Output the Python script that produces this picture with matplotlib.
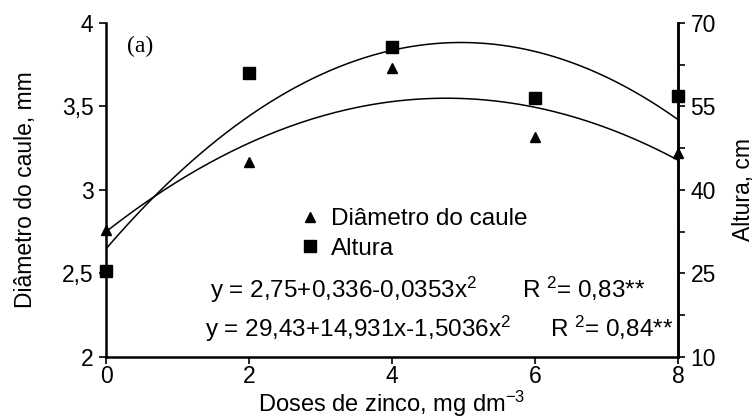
import numpy as np
import matplotlib
matplotlib.use('Agg')
import matplotlib.pyplot as plt

plt.rcParams['font.family'] = ['Liberation Sans', 'DejaVu Sans']
plt.rcParams['mathtext.fontset'] = 'custom'
plt.rcParams['mathtext.rm'] = 'Liberation Sans'
plt.rcParams['mathtext.it'] = 'Liberation Sans'

# doses de zinco
doses = [0, 2, 4, 6, 8]
# diametro do caule (mm) - eixo esquerdo
diametro = [2.76, 3.17, 3.73, 3.32, 3.22]
# altura (cm) - eixo direito
altura = [25.5, 61.0, 65.7, 56.6, 56.8]
# coeficientes das regressoes (a, b, c) de y = a + b x + c x^2
coef_diametro = [2.75, 0.336, -0.0353]
coef_altura = [29.43, 14.931, -1.5036]

fig = plt.figure(figsize=(7.54, 4.18), dpi=100)
ax = fig.add_axes([0.1406, 0.146, 0.7586, 0.799])
ax2 = ax.twinx()

xs = np.linspace(0, 8, 200)
yd = coef_diametro[0] + coef_diametro[1]*xs + coef_diametro[2]*xs**2
ya = coef_altura[0] + coef_altura[1]*xs + coef_altura[2]*xs**2

ax.plot(xs, yd, color='black', lw=1.1)
ax2.plot(xs, ya, color='black', lw=1.1)
ax.plot(doses, diametro, linestyle='none', marker='^', color='black', ms=7.5, clip_on=False, zorder=5)
ax2.plot(doses, altura, linestyle='none', marker='s', color='black', ms=8, clip_on=False, zorder=5)

ax.set_xlim(0, 8)
ax.set_ylim(2, 4)
ax2.set_ylim(10, 70)
ax.set_xticks(doses)
ax.set_yticks([2, 2.5, 3, 3.5, 4])
ax.set_yticklabels(['2', '2,5', '3', '3,5', '4'])
ax2.set_yticks([10, 25, 40, 55, 70])
ax2.set_yticks([17.5, 32.5, 47.5, 62.5], minor=True)

for a in (ax, ax2):
    a.spines['top'].set_visible(False)
    for s in a.spines.values():
        s.set_linewidth(1.8)
    a.tick_params(direction='out', length=5, width=1.2, labelsize=16.5, pad=4)
    a.tick_params(which='minor', direction='out', length=5, width=1.2)
ax.tick_params(axis='x', pad=1)
ax2.spines['left'].set_visible(False)
ax2.spines['bottom'].set_visible(False)

ax.set_xlabel('Doses de zinco, mg dm$^{-3}$', fontsize=17, va='center')
ax.xaxis.set_label_coords(0.5, -0.14)
ax.set_ylabel('Diâmetro do caule, mm', fontsize=16.5, va='center')
ax.yaxis.set_label_coords(-0.14, 0.5)
ax2.set_ylabel('Altura, cm', fontsize=16.5, va='center')
ax2.yaxis.set_label_coords(1.114, 0.5)

ax.text(0.036, 0.93, '(a)', family='Liberation Serif', fontsize=17, va='center', transform=ax.transAxes)

# legenda
ax.plot([0.357], [0.419], linestyle='none', marker='^', color='black', ms=7.5, transform=ax.transAxes, zorder=5)
ax.text(0.393, 0.395, 'Diâmetro do caule', fontsize=17.5, va='baseline', transform=ax.transAxes)
ax.plot([0.357], [0.332], linestyle='none', marker='s', color='black', ms=8, transform=ax.transAxes, zorder=5)
ax.text(0.393, 0.305, 'Altura', fontsize=17.5, va='baseline', transform=ax.transAxes)

ax.text(0.182, 0.177, 'y = 2,75+0,336-0,0353x$^2$', fontsize=17.5, va='baseline', transform=ax.transAxes)
ax.text(0.727, 0.177, 'R $^2$= 0,83**', fontsize=17.5, va='baseline', transform=ax.transAxes)
ax.text(0.173, 0.060, 'y = 29,43+14,931x-1,5036x$^2$', fontsize=17.5, va='baseline', transform=ax.transAxes)
ax.text(0.776, 0.060, 'R $^2$= 0,84**', fontsize=17.5, va='baseline', transform=ax.transAxes)

fig.savefig('out.png', dpi=100)
